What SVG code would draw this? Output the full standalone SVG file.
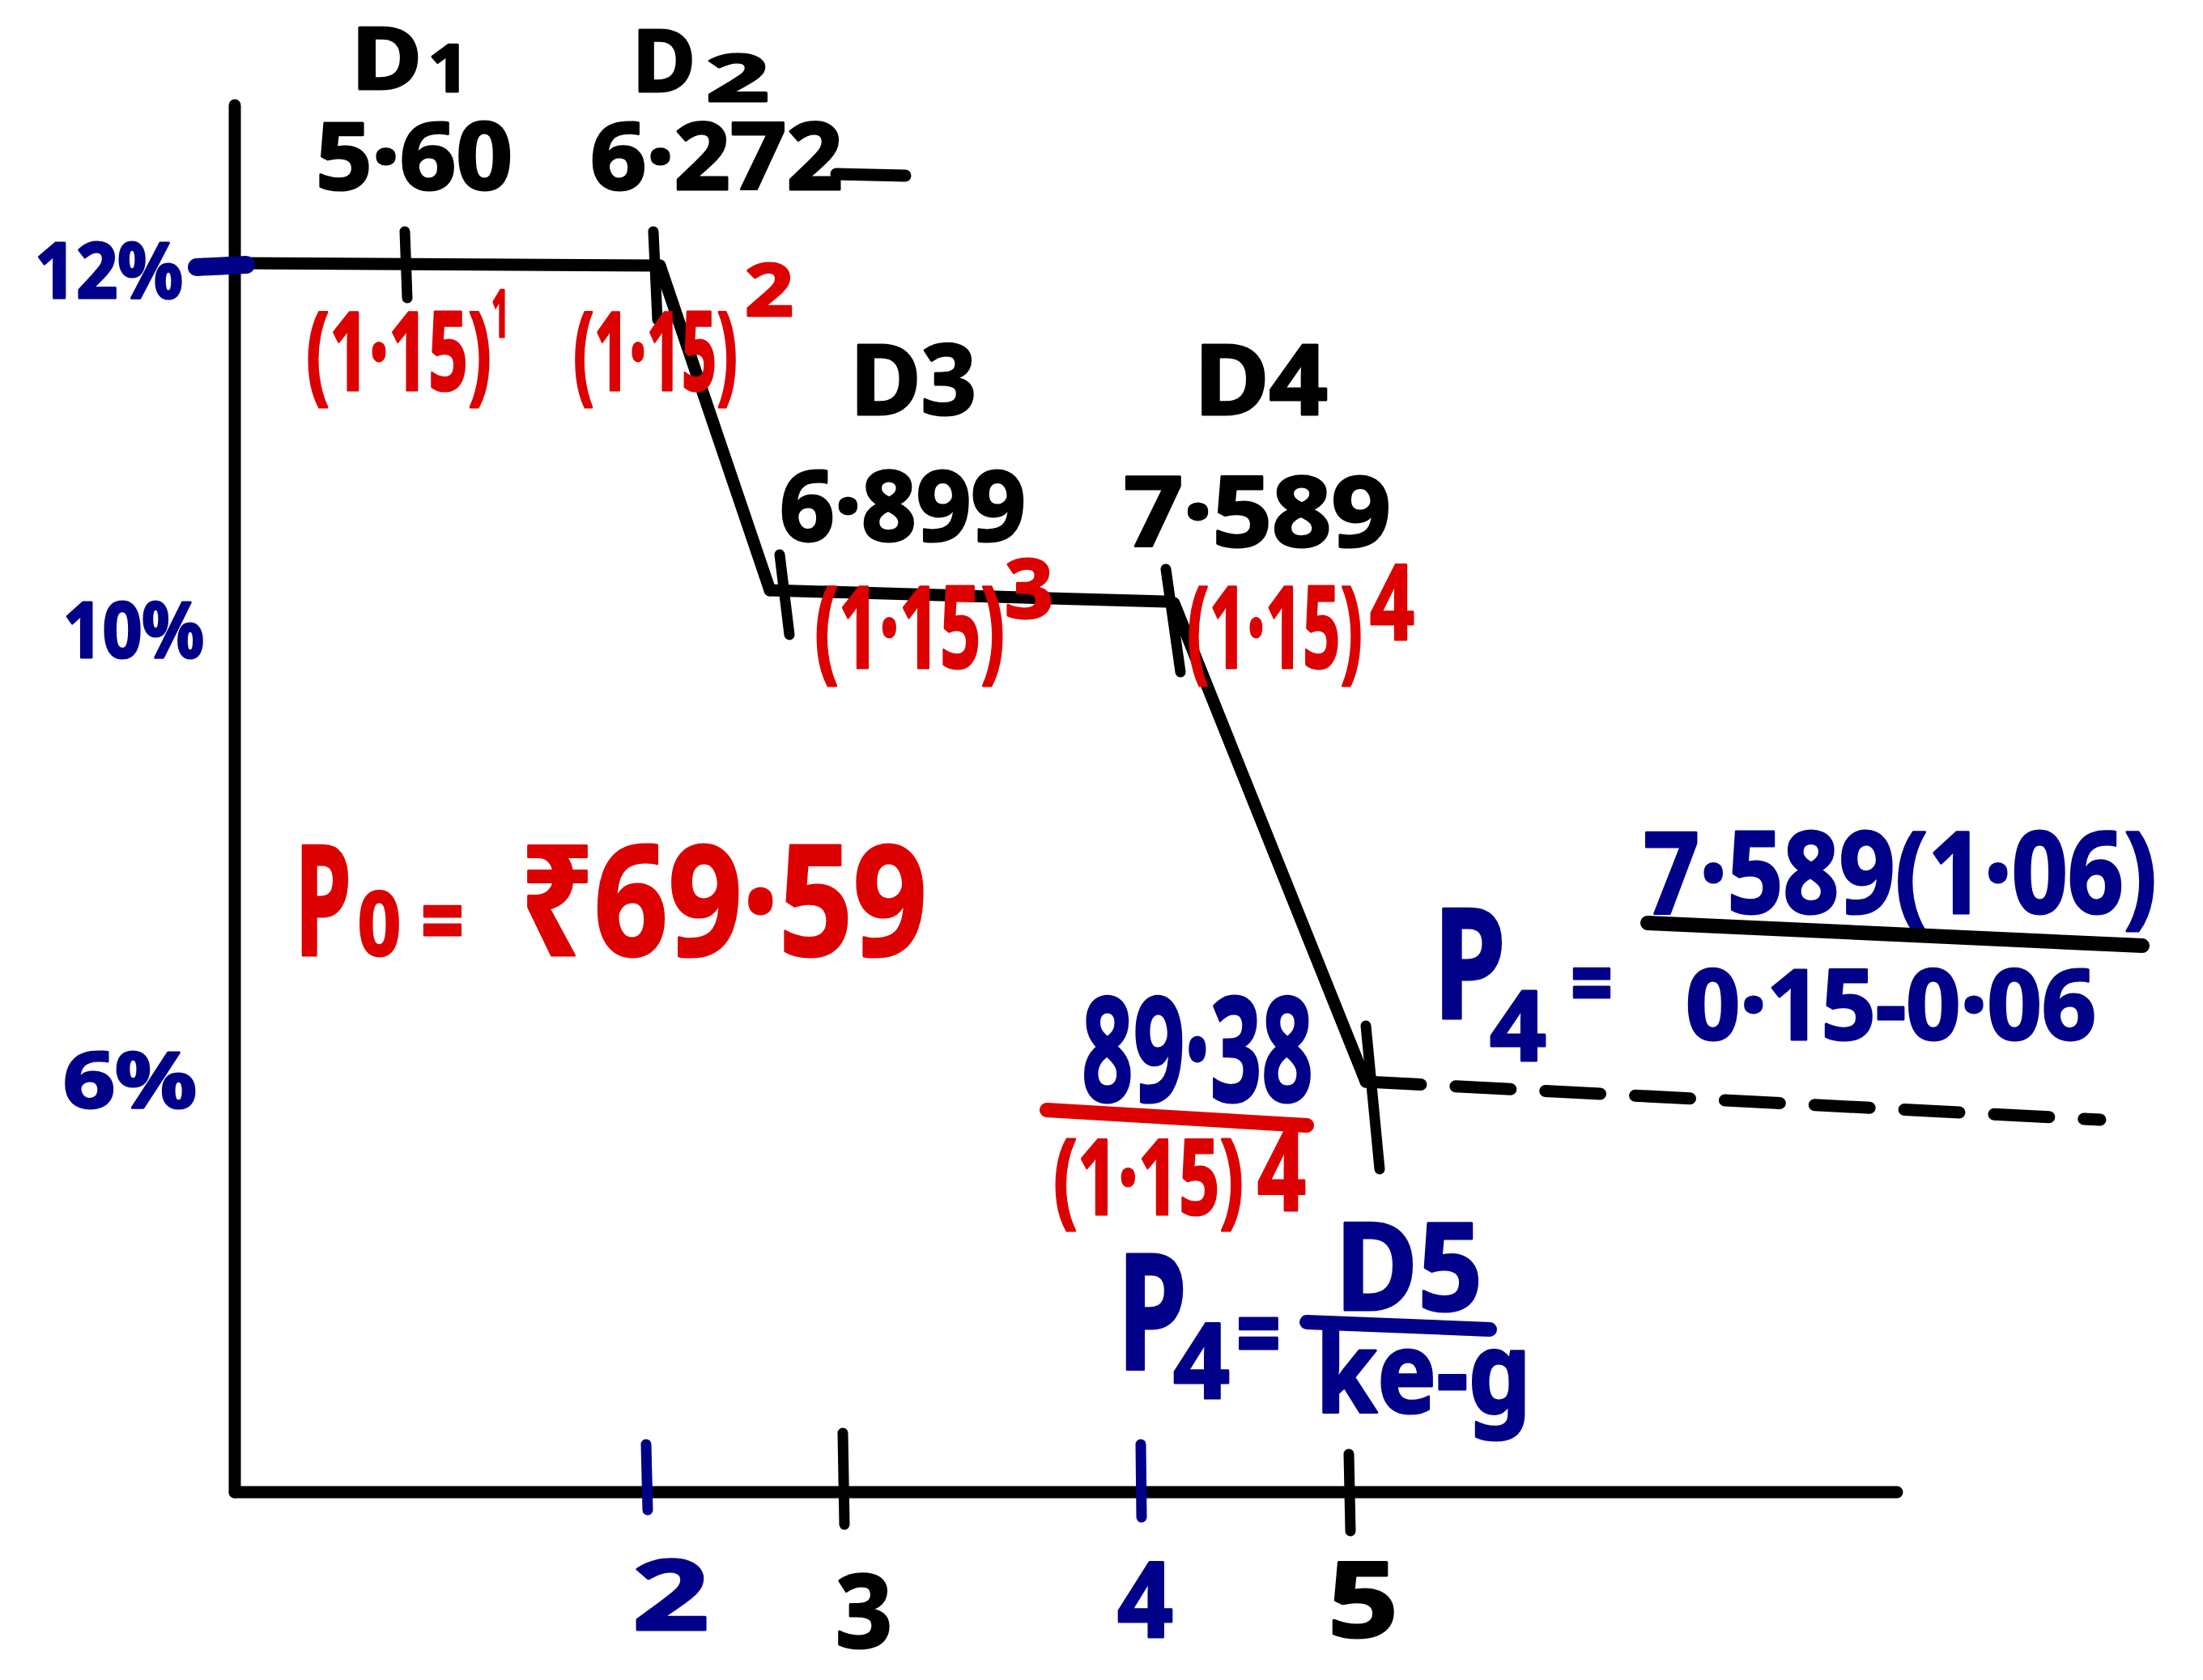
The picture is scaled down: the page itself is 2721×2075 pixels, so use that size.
<svg xmlns="http://www.w3.org/2000/svg" width="2721" height="2075" viewBox="0 0 2721 2075">
<style>
text{font-family:"Noto Sans","DejaVu Sans",sans-serif;font-weight:700;stroke-width:3;stroke-linejoin:round}
.k{fill:#000;stroke:#000}
.b{fill:#000088;stroke:#000088}
.r{fill:#dd0000;stroke:#dd0000}
.ln{stroke:#000;stroke-width:15;stroke-linecap:round;fill:none}
.tk{stroke-width:13;stroke-linecap:round;fill:none}
</style>
<rect width="2721" height="2075" fill="#fff"/>
<g id="axes">
<line class="ln" x1="290" y1="130" x2="290" y2="1843"/>
<line class="ln" x1="290" y1="1843" x2="2343" y2="1843"/>
</g>
<g id="connectors">
<line class="ln" x1="290" y1="325" x2="815" y2="328"/>
<line class="ln" x1="815" y1="328" x2="951" y2="729"/>
<line class="ln" x1="951" y1="729" x2="1440" y2="743"/>
<line class="ln" x1="1450" y1="745" x2="1687" y2="1336"/>
<line class="ln" x1="1687" y1="1336" x2="2594" y2="1383" stroke-width="20" stroke-dasharray="68 43" stroke-linecap="butt"/>
<line class="ln" x1="1033" y1="215" x2="1118" y2="217"/>
</g>
<g id="ticks">
<line class="tk" stroke="#000" x1="500" y1="286" x2="503" y2="368"/>
<line class="tk" stroke="#000" x1="807" y1="286" x2="812" y2="395"/>
<line class="tk" stroke="#000" x1="963" y1="685" x2="975" y2="784"/>
<line class="tk" stroke="#000" x1="1440" y1="703" x2="1458" y2="830"/>
<line class="tk" stroke="#000" x1="1687" y1="1267" x2="1704" y2="1444"/>
<line class="tk" stroke="#000088" x1="798" y1="1784" x2="800" y2="1865"/>
<line class="tk" stroke="#000" x1="1041" y1="1770" x2="1043" y2="1883"/>
<line class="tk" stroke="#000088" x1="1409" y1="1784" x2="1410" y2="1874"/>
<line class="tk" stroke="#000" x1="1666" y1="1796" x2="1668" y2="1891"/>
<line stroke="#000088" stroke-width="22" stroke-linecap="round" x1="243" y1="330" x2="304" y2="327"/>
</g>
<g id="y-labels">
<text class="b" x="43" y="368" font-size="95" textLength="183" lengthAdjust="spacingAndGlyphs">12%</text>
<text class="b" x="78" y="812" font-size="95" textLength="174" lengthAdjust="spacingAndGlyphs">10%</text>
<text class="b" x="78" y="1368" font-size="95" textLength="165" lengthAdjust="spacingAndGlyphs">6%</text>
</g>
<g id="x-labels">
<text class="b" x="781" y="2013" font-size="120" textLength="95" lengthAdjust="spacingAndGlyphs">2</text>
<text class="k" x="1032" y="2035" font-size="125" textLength="70" lengthAdjust="spacingAndGlyphs">3</text>
<text class="b" x="1380" y="2022" font-size="130" textLength="69" lengthAdjust="spacingAndGlyphs">4</text>
<text class="k" x="1640" y="2022" font-size="130" textLength="87" lengthAdjust="spacingAndGlyphs">5</text>
</g>
<g id="d1">
<text class="k" x="434" y="110" font-size="105" textLength="87" lengthAdjust="spacingAndGlyphs">D</text>
<text class="k" x="529" y="113" font-size="80" textLength="50" lengthAdjust="spacingAndGlyphs">1</text>
<text class="k" x="390" y="234" font-size="115" textLength="243" lengthAdjust="spacingAndGlyphs">5·60</text>
<text class="r" x="378" y="482" font-size="135" textLength="229" lengthAdjust="spacingAndGlyphs">(1·15)</text>
<text class="r" x="607" y="416" font-size="80" textLength="22" lengthAdjust="spacingAndGlyphs">1</text>
</g>
<g id="d2">
<text class="k" x="781" y="113" font-size="105" textLength="78" lengthAdjust="spacingAndGlyphs">D</text>
<text class="k" x="872" y="125" font-size="80" textLength="78" lengthAdjust="spacingAndGlyphs">2</text>
<text class="k" x="729" y="234" font-size="115" textLength="312" lengthAdjust="spacingAndGlyphs">6·272</text>
<text class="r" x="708" y="482" font-size="135" textLength="203" lengthAdjust="spacingAndGlyphs">(1·15)</text>
<text class="r" x="920" y="390" font-size="90" textLength="60" lengthAdjust="spacingAndGlyphs">2</text>
</g>
<g id="d3">
<text class="k" x="1050" y="512" font-size="120" textLength="156" lengthAdjust="spacingAndGlyphs">D3</text>
<text class="k" x="963" y="668" font-size="120" textLength="304" lengthAdjust="spacingAndGlyphs">6·899</text>
<text class="r" x="1006" y="825" font-size="140" textLength="235" lengthAdjust="spacingAndGlyphs">(1·15)</text>
<text class="r" x="1241" y="763" font-size="100" textLength="60" lengthAdjust="spacingAndGlyphs">3</text>
</g>
<g id="d4">
<text class="k" x="1475" y="512" font-size="120" textLength="165" lengthAdjust="spacingAndGlyphs">D4</text>
<text class="k" x="1388" y="675" font-size="120" textLength="330" lengthAdjust="spacingAndGlyphs">7·589</text>
<text class="r" x="1466" y="825" font-size="140" textLength="217" lengthAdjust="spacingAndGlyphs">(1·15)</text>
<text class="r" x="1692" y="790" font-size="130" textLength="55" lengthAdjust="spacingAndGlyphs">4</text>
</g>
<g id="p0">
<text class="r" x="364" y="1180" font-size="190" textLength="70" lengthAdjust="spacingAndGlyphs">P</text>
<text class="r" x="442" y="1180" font-size="110" textLength="53" lengthAdjust="spacingAndGlyphs">0</text>
<text class="r" x="520" y="1180" font-size="120" textLength="53" lengthAdjust="spacingAndGlyphs">=</text>
<text class="r" x="642" y="1180" font-size="190" textLength="503" lengthAdjust="spacingAndGlyphs">₹69·59</text>
</g>
<g id="pv">
<text class="b" x="1336" y="1360" font-size="180" textLength="286" lengthAdjust="spacingAndGlyphs">89·38</text>
<line stroke="#dd0000" stroke-width="18" stroke-linecap="round" x1="1293" y1="1371" x2="1614" y2="1390"/>
<text class="r" x="1301" y="1500" font-size="130" textLength="235" lengthAdjust="spacingAndGlyphs">(1·15)</text>
<text class="r" x="1553" y="1495" font-size="140" textLength="60" lengthAdjust="spacingAndGlyphs">4</text>
</g>
<g id="p4-formula">
<text class="b" x="1380" y="1692" font-size="200" textLength="86" lengthAdjust="spacingAndGlyphs">P</text>
<text class="b" x="1449" y="1727" font-size="130" textLength="70" lengthAdjust="spacingAndGlyphs">4</text>
<text class="b" x="1527" y="1692" font-size="130" textLength="55" lengthAdjust="spacingAndGlyphs">=</text>
<text class="b" x="1649" y="1618" font-size="150" textLength="182" lengthAdjust="spacingAndGlyphs">D5</text>
<line stroke="#000088" stroke-width="18" stroke-linecap="round" x1="1614" y1="1633" x2="1840" y2="1642"/>
<text class="b" x="1625" y="1745" font-size="140" textLength="266" lengthAdjust="spacingAndGlyphs">ke-g</text>
</g>
<g id="p4-value">
<text class="b" x="1770" y="1258" font-size="190" textLength="90" lengthAdjust="spacingAndGlyphs">P</text>
<text class="b" x="1840" y="1310" font-size="120" textLength="70" lengthAdjust="spacingAndGlyphs">4</text>
<text class="b" x="1940" y="1257" font-size="120" textLength="52" lengthAdjust="spacingAndGlyphs">=</text>
<text class="b" x="2030" y="1128" font-size="140" textLength="634" lengthAdjust="spacingAndGlyphs">7·589(1·06)</text>
<line stroke="#000" stroke-width="18" stroke-linecap="round" x1="2035" y1="1140" x2="2646" y2="1168"/>
<text class="b" x="2082" y="1284" font-size="120" textLength="507" lengthAdjust="spacingAndGlyphs">0·15-0·06</text>
</g>
</svg>
